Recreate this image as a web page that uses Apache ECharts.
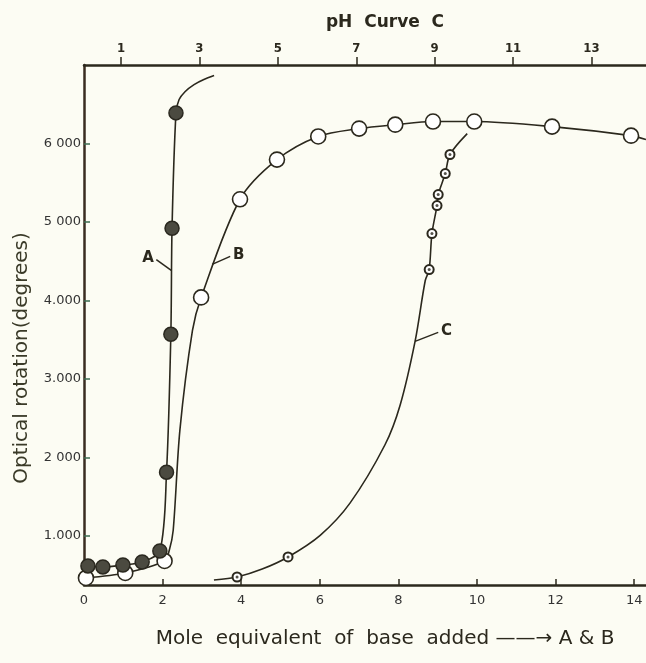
<!DOCTYPE html>
<html>
<head>
<meta charset="utf-8">
<script src="https://cdn.jsdelivr.net/npm/echarts@6/dist/echarts.min.js"></script>
<style>
html,body{margin:0;padding:0;background:#fcfcf3;}
#chart{width:646px;height:663px;}
</style>
</head>
<body>
<div id="chart"></div>
<script>
// ---- tick labels ----
const xTicksBottom = [0, 2, 4, 6, 8, 10, 12, 14];
const pHTicks = [1, 3, 5, 7, 9, 11, 13];
const yTickValues = [1000, 2000, 3000, 4000, 5000, 6000];
const yTickLabels = ['1.000', '2 000', '3.000', '4.000', '5 000', '6 000'];

// ---- curve A (mole equivalent, filled markers) ----
const curveAMarkers = [[0.10, 620], [0.48, 607], [0.99, 632], [1.48, 670], [1.93, 810], [2.10, 1814], [2.21, 3570], [2.24, 4920], [2.34, 6390]];
const curveAPath = [[2.42, 6560], [2.57, 6660], [2.80, 6750], [3.05, 6815], [3.31, 6865]];

// ---- curve B (mole equivalent, open markers) ----
const curveBMarkers = [[0.05, 467], [1.05, 530], [2.05, 683], [2.98, 4040], [3.97, 5290], [4.91, 5795], [5.96, 6090], [7.00, 6190], [7.92, 6240], [8.88, 6280], [9.93, 6280], [11.91, 6215], [13.92, 6100]];
const curveBPath = [[2.17, 820], [2.27, 1075], [2.44, 2350], [2.76, 3620], [14.30, 6050]];

// ---- curve C (pH, small dotted markers) ----
const curveCMarkers = [[3.96, 479], [5.26, 734], [8.86, 4395], [8.93, 4853], [9.06, 5210], [9.09, 5350], [9.27, 5617], [9.39, 5860]];
const curveCPath = [[3.37, 441], [4.60, 580], [6.08, 1010], [6.84, 1420], [7.73, 2160], [8.12, 2670], [8.50, 3480], [8.76, 4255], [9.83, 6126]];

// ---- curve labels (leader line from curve to label) ----
const labelA = { from: [2.22, 4384], to: [1.84, 4520], text: 'A' };
const labelB = { from: [3.26, 4460], to: [3.72, 4562], text: 'B' };
const labelC = { from: [8.50, 3480], to: [9.09, 3595], text: 'C' };

const ink = '#2b281d';
const bg = '#fcfcf3';

function merged(markers, path) {
  return markers.map(p => ({ value: p }))
    .concat(path.map(p => ({ value: p, symbol: 'none' })))
    .sort((a, b) => a.value[0] - b.value[0]);
}

function leader(l) {
  return {
    silent: true,
    symbol: ['none', 'none'],
    lineStyle: { color: ink, width: 1.5, type: 'solid' },
    label: { show: true, position: 'end', formatter: l.text, color: ink, fontSize: 15, fontWeight: 'bold', fontFamily: 'DejaVu Sans', distance: 3 },
    data: [[{ coord: l.from }, { coord: l.to }]]
  };
}

const chart = echarts.init(document.getElementById('chart'), null, { renderer: 'canvas' });
chart.setOption({
  backgroundColor: bg,
  animation: false,
  title: [
    { text: 'pH  Curve  C', left: 380, top: 9, textAlign: 'center',
      textStyle: { fontFamily: 'DejaVu Sans', fontWeight: 'bold', fontSize: 17, color: ink } },
    { text: 'Mole  equivalent  of  base  added ——→ A & B', left: 380, top: 624, textAlign: 'center',
      textStyle: { fontFamily: 'DejaVu Sans', fontWeight: 'normal', fontSize: 20, color: ink } }
  ],
  grid: { left: 84, right: 0, top: 65, bottom: 78 },
  xAxis: [
    { type: 'value', position: 'bottom', min: 0, max: 14.3,
      axisLine: { onZero: false, lineStyle: { color: ink, width: 2.5 } },
      axisTick: { inside: true, length: 6, customValues: xTicksBottom, lineStyle: { color: ink, width: 1.5 } },
      axisLabel: { customValues: xTicksBottom, margin: 9, fontSize: 13, color: '#333', fontFamily: 'DejaVu Sans' },
      splitLine: { show: false } },
    { type: 'value', position: 'top', min: 0.056, max: 14.39,
      axisLine: { onZero: false, lineStyle: { color: ink, width: 2.5 } },
      axisTick: { inside: false, length: 8, customValues: pHTicks, lineStyle: { color: ink, width: 1.5 } },
      axisLabel: { customValues: pHTicks, margin: 10, fontSize: 13, fontWeight: 'bold', color: ink, fontFamily: 'DejaVu Sans Condensed' },
      splitLine: { show: false } }
  ],
  yAxis: {
    type: 'value', min: 377, max: 7000,
    axisLine: { show: true, lineStyle: { color: '#3a2c20', width: 2.5 } },
    axisTick: { show: true, inside: true, length: 6, customValues: yTickValues, lineStyle: { color: '#3d6b50', width: 1.5 } },
    axisLabel: { customValues: yTickValues, margin: 3, fontSize: 13, color: '#333',
      fontFamily: 'DejaVu Sans', formatter: v => yTickLabels[yTickValues.indexOf(v)] },
    splitLine: { show: false }
  },
  graphic: [
    { type: 'text', x: 22, y: 358, rotation: Math.PI / 2,
      style: { text: 'Optical rotation(degrees)', fill: '#3a3a28', fontSize: 20, fontFamily: 'DejaVu Sans',
        textAlign: 'center', textVerticalAlign: 'middle' } }
  ],
  series: [
    { name: 'A', type: 'line', xAxisIndex: 0, data: merged(curveAMarkers, curveAPath),
      smooth: 0.3, symbol: 'circle', symbolSize: 14, showAllSymbol: true,
      lineStyle: { color: ink, width: 1.6 },
      itemStyle: { color: '#4b4a40', borderColor: '#2a281f', borderWidth: 1.5 },
      markLine: leader(labelA), z: 3 },
    { name: 'B', type: 'line', xAxisIndex: 0, data: merged(curveBMarkers, curveBPath),
      smooth: 0.3, symbol: 'circle', symbolSize: 15, showAllSymbol: true,
      lineStyle: { color: ink, width: 1.6 },
      itemStyle: { color: '#ffffff', borderColor: ink, borderWidth: 1.6 },
      markLine: leader(labelB), z: 2 },
    { name: 'C', type: 'line', xAxisIndex: 1, data: merged(curveCMarkers, curveCPath),
      smooth: 0.3, symbol: 'circle', symbolSize: 9, showAllSymbol: true,
      lineStyle: { color: ink, width: 1.6 },
      itemStyle: { color: '#ffffff', borderColor: ink, borderWidth: 2 },
      markLine: leader(labelC), z: 2 },
    { name: 'C dots', type: 'scatter', xAxisIndex: 1, data: curveCMarkers,
      symbol: 'circle', symbolSize: 3, itemStyle: { color: ink }, silent: true, z: 4 }
  ]
});
</script>
</body>
</html>
